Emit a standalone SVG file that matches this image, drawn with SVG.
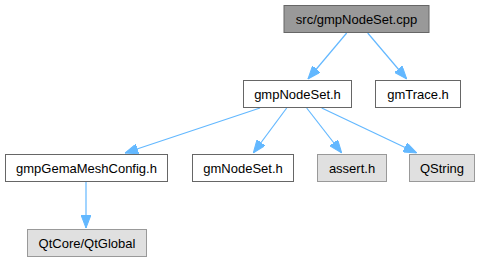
<svg xmlns="http://www.w3.org/2000/svg" width="481" height="261" viewBox="0 0 481 261">
<style>
.n rect{stroke:#666666;stroke-width:1;fill:#ffffff}
.n.cur rect{fill:#999999}
.n.ext rect{fill:#e0e0e0;stroke:#999999}
.n text{font-family:"Liberation Sans",Arial,sans-serif;font-size:13px;fill:#000000;text-anchor:middle}
.e line{stroke:#63b8ff;stroke-width:1.2;fill:none;marker-end:url(#ah)}
</style>
<defs>
<marker id="ah" viewBox="0 0 13 10" refX="13" refY="5" markerWidth="13" markerHeight="10" orient="auto" markerUnits="userSpaceOnUse">
<path d="M0,0 L13,5 L0,10 z" fill="#63b8ff" stroke="#63b8ff"/>
</marker>
</defs>
<rect width="481" height="261" fill="#ffffff"/>
<g class="e" id="edges">
<line x1="346.7" y1="33" x2="308" y2="79"/>
<line x1="367.7" y1="33" x2="406.7" y2="79"/>
<line x1="260" y1="108" x2="125" y2="153"/>
<line x1="286.7" y1="108" x2="253.3" y2="153"/>
<line x1="306.7" y1="108" x2="341.7" y2="153"/>
<line x1="321.7" y1="108" x2="416.7" y2="153"/>
<line x1="86" y1="181" x2="86" y2="228"/>
</g>
<g class="n cur" id="node_src"><rect x="284" y="5.5" width="145" height="27"/><text x="356.5" y="23.5">src/gmpNodeSet.cpp</text></g>
<g class="n" id="node_gmpNodeSet_h"><rect x="243.5" y="80.5" width="108" height="27"/><text x="297.5" y="98.5">gmpNodeSet.h</text></g>
<g class="n" id="node_gmTrace_h"><rect x="375.5" y="80.5" width="85" height="27"/><text x="418" y="98.5">gmTrace.h</text></g>
<g class="n" id="node_gmpGemaMeshConfig_h"><rect x="5.5" y="154.5" width="162" height="27"/><text x="86.5" y="172.5">gmpGemaMeshConfig.h</text></g>
<g class="n" id="node_gmNodeSet_h"><rect x="192.5" y="154.5" width="101" height="27"/><text x="243" y="172.5">gmNodeSet.h</text></g>
<g class="n ext" id="node_assert_h"><rect x="317.5" y="154.5" width="69" height="27"/><text x="352" y="172.5">assert.h</text></g>
<g class="n ext" id="node_QString"><rect x="409.5" y="154.5" width="65" height="27"/><text x="442" y="172.5">QString</text></g>
<g class="n ext" id="node_QtGlobal"><rect x="27.5" y="229.5" width="119" height="27"/><text x="87" y="247.5">QtCore/QtGlobal</text></g>
</svg>
